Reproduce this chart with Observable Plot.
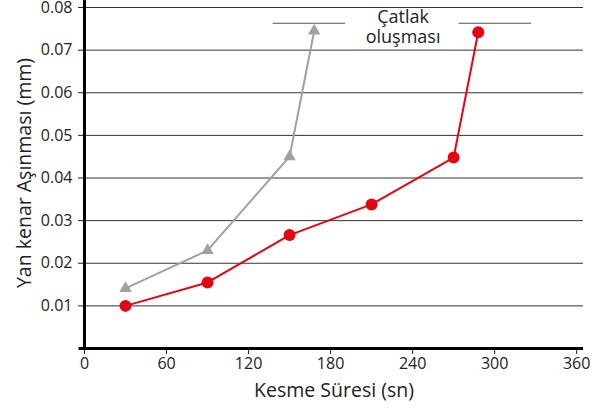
<!DOCTYPE html>
<html>
<head>
<meta charset="utf-8">
<script src="https://cdn.jsdelivr.net/npm/d3@7"></script>
<script src="https://cdn.jsdelivr.net/npm/@observablehq/plot@0.6"></script>
<style>
  html, body { margin: 0; padding: 0; background: #fff; }
  #chart { width: 603px; height: 409px; }
</style>
</head>
<body>
<div id="chart"></div>
<script>
// Cutting time (s)
const redTimes = [30, 90, 150, 210, 270, 288];
const redWear = [0.0100, 0.0155, 0.0266, 0.0338, 0.0448, 0.0742];
const grayTimes = [30, 90, 150, 168];
const grayWear = [0.0141, 0.0230, 0.0450, 0.0745];
const xTicks = [0, 60, 120, 180, 240, 300, 360];
const yTicks = [0.01, 0.02, 0.03, 0.04, 0.05, 0.06, 0.07, 0.08];
const xLabel = "Kesme Süresi (sn)";
const yLabel = "Yan kenar Aşınması (mm)";
const annotationText = "Çatlak\noluşması";
const annotationLines = [
  {x1: 138, x2: 191, y: 0.0763},
  {x1: 274, x2: 327, y: 0.0763}
];
const annotationLabel = [{x: 233, y: 0.0763, text: annotationText}];

const red = redTimes.map((t, i) => ({t, w: redWear[i]}));
const gray = grayTimes.map((t, i) => ({t, w: grayWear[i]}));

const FONT = "'Open Sans', Roboto, 'DejaVu Sans', sans-serif";
const RED = "#e30613";
const GRAY = "#a0a0a0";

const chart = Plot.plot({
  width: 603,
  height: 409,
  marginLeft: 84,
  marginRight: 20,
  marginTop: 7,
  marginBottom: 61,
  style: {fontFamily: FONT, fontSize: "16px", color: "#222", background: "#fff", overflow: "visible"},
  x: {domain: [0, 365]},
  y: {domain: [0, 0.08]},
  marks: [
    Plot.gridY(yTicks, {stroke: "#333", strokeOpacity: 1, strokeWidth: 1}),
    Plot.axisY(yTicks, {tickSize: 6, tickPadding: 6, tickFormat: d3.format(".2f"), fontSize: 16, label: null}),
    Plot.axisX(xTicks, {tickSize: 6, tickPadding: 3, fontSize: 16, label: null}),
    Plot.text([xLabel], {frameAnchor: "bottom", dy: 42, lineAnchor: "middle", textAnchor: "middle", text: d => d, fontSize: 19.5, fill: "#222"}),
    Plot.text([yLabel], {frameAnchor: "left", dx: -60, dy: -5, rotate: -90, lineAnchor: "middle", textAnchor: "middle", text: d => d, fontSize: 19.5, fill: "#222"}),
    Plot.ruleX([0], {y1: 0, y2: 0.0817, stroke: "#000", strokeWidth: 3}),
    Plot.ruleY([0], {x1: -4, x2: 365, stroke: "#000", strokeWidth: 3}),
    Plot.ruleY(annotationLines, {x1: "x1", x2: "x2", y: "y", stroke: "#555", strokeWidth: 1.2}),
    Plot.text(annotationLabel, {x: "x", y: "y", dy: 3, text: "text", fontSize: 18, lineHeight: 1.1, fill: "#222"}),
    Plot.line(gray, {x: "t", y: "w", stroke: GRAY, strokeWidth: 2}),
    Plot.dot(gray, {x: "t", y: "w", symbol: "triangle", r: 4.6, fill: GRAY, stroke: null}),
    Plot.line(red, {x: "t", y: "w", stroke: RED, strokeWidth: 2}),
    Plot.dot(red, {x: "t", y: "w", r: 6, fill: RED, stroke: null})
  ]
});
document.getElementById("chart").appendChild(chart);
</script>
</body>
</html>
